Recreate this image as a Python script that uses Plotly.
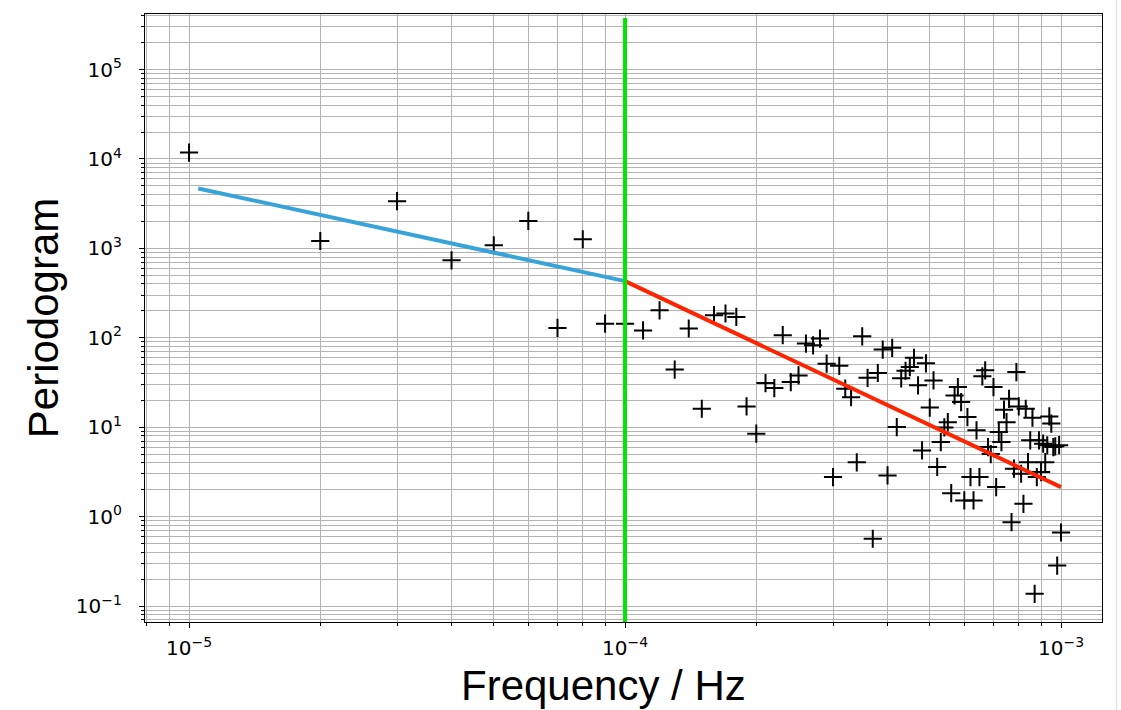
import plotly.graph_objects as go

# Frequency bins in units of 1e-5 Hz
freq_bins = [1, 2, 3, 4, 5, 6, 7, 8, 9, 10,
             11, 12, 13, 14, 15, 16, 17, 18, 19, 20,
             21, 22, 23, 24, 25, 26, 27, 28, 29, 30,
             31, 32, 33, 34, 35, 36, 37, 38, 39, 40,
             41, 42, 43, 44, 45, 46, 47, 48, 49, 50,
             51, 52, 53, 54, 55, 56, 57, 58, 59, 60,
             61, 62, 63, 64, 65, 66, 67, 68, 69, 70,
             71, 72, 73, 74, 75, 76, 77, 78, 79, 80,
             81, 82, 83, 84, 85, 86, 87, 88, 89, 90,
             91, 92, 93, 94, 95, 96, 97, 98, 99, 100]
freq_unit = 1e-5

periodogram = [11800, 1210, 3370, 736, 1084, 2028, 129, 1265, 144, 144,
               121, 203, 44.1, 127, 16.1, 179, 187, 171, 17.1, 8.47,
               31.2, 27.4, 107, 32.0, 38.0, 86.1, 82.4, 98.0, 51.4, 2.77,
               48.6, 27.0, 21.7, 4.05, 104, 35.7, 0.566, 40.4, 73.8, 2.89,
               77.3, 10.05, 35.2, 42.8, 47.1, 59.7, 29.4, 5.51, 51.9, 16.6,
               33.4, 3.60, 6.82, 9.95, 11.4, 1.83, 22.7, 28.1, 19.1, 1.52,
               13.0, 2.77, 1.52, 9.23, 2.77, 37.1, 43.3, 6.00, 5.01, 28.1,
               2.14, 8.83, 6.82, 15.7, 11.4, 20.8, 0.867, 3.44, 41.4, 17.1,
               3.02, 1.39, 16.1, 4.07, 7.13, 12.8, 0.137, 2.77, 7.13, 3.15,
               6.55, 4.07, 6.27, 13.2, 11.0, 6.00, 6.11, 0.284, 6.3, 0.665]

# power-law fits (endpoints of each segment)
fit_low_f = [1.05e-5, 1e-4]
fit_low_p = [4680, 430]
fit_high_f = [1e-4, 1e-3]
fit_high_p = [430, 2.14]
break_freq = 1e-4

# tick labels
x_tick_vals = [1e-5, 1e-4, 1e-3]
x_tick_text = ["10<sup>\u22125</sup>", "10<sup>\u22124</sup>", "10<sup>\u22123</sup>"]
y_tick_vals = [1e-1, 1e0, 1e1, 1e2, 1e3, 1e4, 1e5]
y_tick_text = ["10<sup>\u22121</sup>", "10<sup>0</sup>", "10<sup>1</sup>", "10<sup>2</sup>",
               "10<sup>3</sup>", "10<sup>4</sup>", "10<sup>5</sup>"]

freqs = [b * freq_unit for b in freq_bins]

fig = go.Figure()
fig.add_trace(go.Scatter(
    x=freqs, y=periodogram, mode="markers",
    marker=dict(symbol="cross-thin", size=13, color="black",
                line=dict(width=2, color="black")),
    showlegend=False))
fig.add_trace(go.Scatter(x=fit_low_f, y=fit_low_p, mode="lines",
                         line=dict(color="#38a3d9", width=4), showlegend=False))
fig.add_trace(go.Scatter(x=fit_high_f, y=fit_high_p, mode="lines",
                         line=dict(color="#ff2400", width=4), showlegend=False))

fig.add_shape(type="line", xref="x", yref="y domain",
              x0=break_freq, x1=break_freq, y0=0, y1=0.9934,
              line=dict(color="#00e600", width=4))
# faint border at right edge of picture
fig.add_shape(type="line", xref="paper", yref="paper",
              x0=1.0152, x1=1.0152, y0=-0.146, y1=1.023,
              line=dict(color="#e3e3e3", width=1.5))

grid_col = "#b3b3b3"
tick_font = dict(family="DejaVu Sans", size=20, color="black")
title_font = dict(family="Liberation Sans", size=42, color="black")

axis_common = dict(
    type="log", tickmode="array",
    showline=True, mirror=True, linecolor="black", linewidth=1.3,
    ticks="outside", ticklen=5, tickwidth=1.2, tickcolor="black",
    showgrid=True, gridcolor=grid_col, gridwidth=1.2,
    zeroline=False, tickfont=tick_font,
    minor=dict(ticks="outside", ticklen=2.5, tickwidth=1, tickcolor="black",
               showgrid=True, gridcolor=grid_col, gridwidth=1.2, dtick="D1"),
)

fig.update_xaxes(**axis_common, range=[-5.101, -2.906],
                 tickvals=x_tick_vals, ticktext=x_tick_text, ticklabelstandoff=3)
fig.update_yaxes(**axis_common, range=[-1.178, 5.621],
                 tickvals=y_tick_vals, ticktext=y_tick_text, ticklabelstandoff=13,
                 title=dict(text="Periodogram", font=title_font, standoff=4))

fig.add_annotation(text="Frequency / Hz", xref="paper", yref="paper",
                   x=0.4796, y=-0.105, xanchor="center", yanchor="middle",
                   showarrow=False, font=title_font)

fig.update_layout(
    width=1121, height=710,
    margin=dict(l=145, r=19, t=14, b=88, autoexpand=False),
    paper_bgcolor="white", plot_bgcolor="white",
)

fig.write_html("out.html")
